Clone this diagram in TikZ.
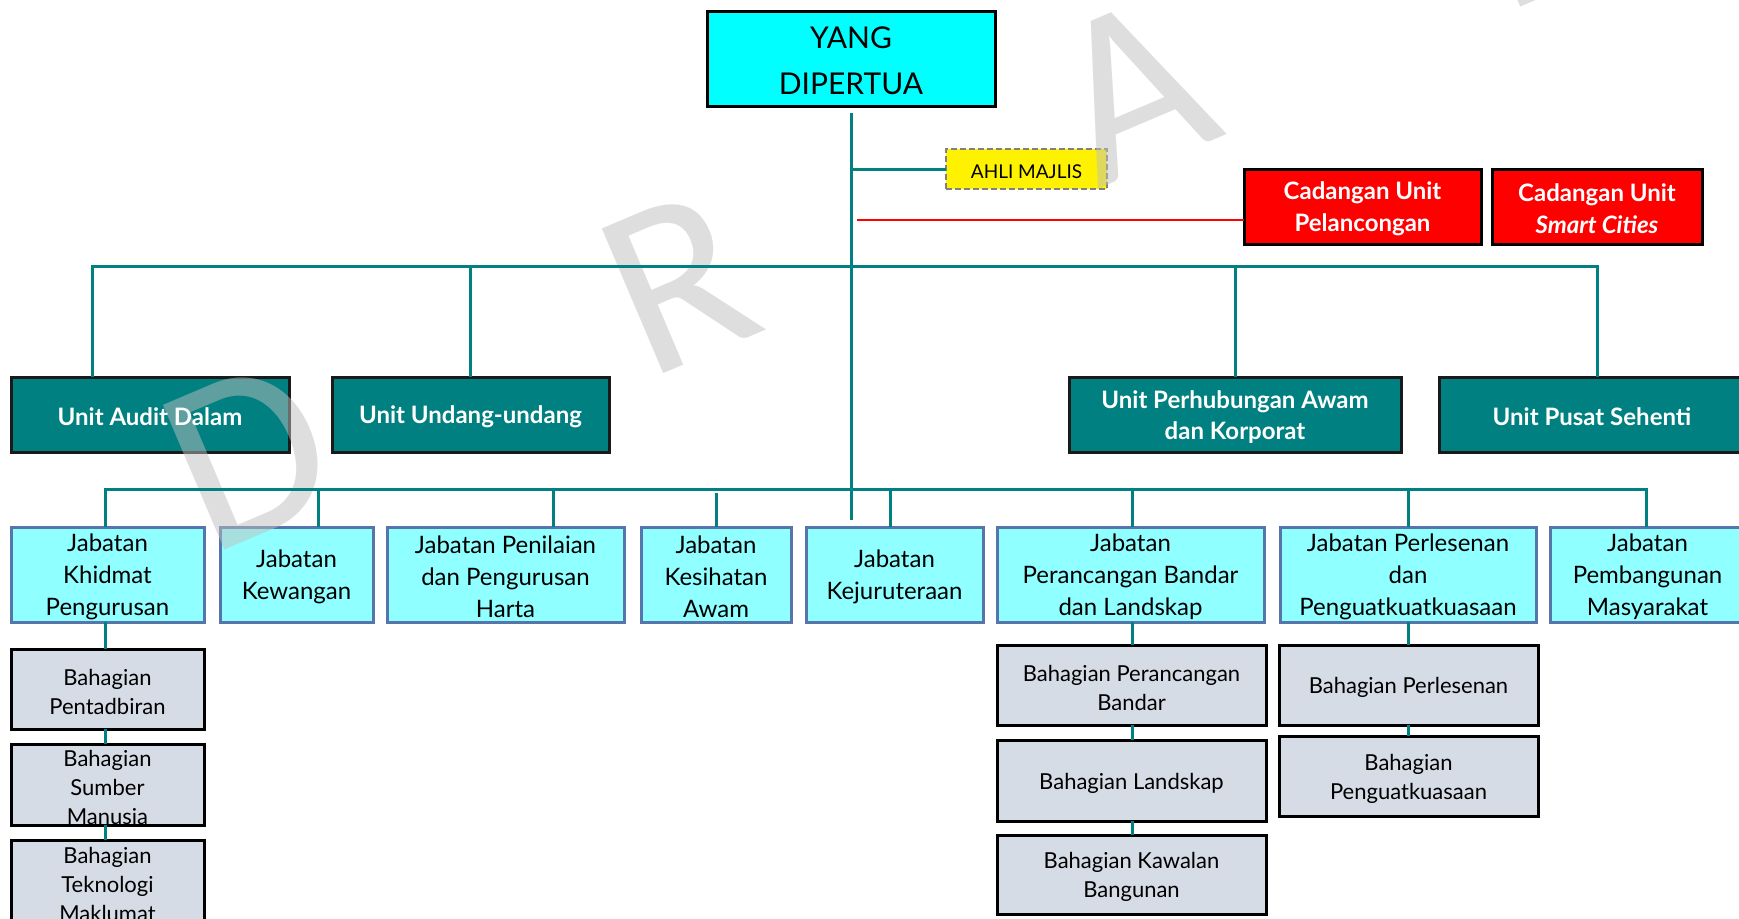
\documentclass[tikz,border=0pt]{standalone}
\usepackage{fontspec}
\setmainfont{Lato}
\newfontfamily\wmfont{Carlito}
\definecolor{teal1}{HTML}{008080}
\definecolor{ydpfill}{HTML}{00FFFF}
\definecolor{deptfill}{HTML}{8FFFFF}
\definecolor{deptdraw}{HTML}{5675AB}
\definecolor{grayfill}{HTML}{D6DCE5}
\definecolor{wmgray}{HTML}{BFBFBF}
\definecolor{borderdark}{HTML}{1A1A1A}
\pgfdeclarelayer{wm}
\pgfdeclarelayer{front}
\pgfsetlayers{main,wm,front}
\newcommand\orgbox[7]{%
  \node[#2, inner sep=0pt, outer sep=0pt, minimum width={(#5-#3)*1pt}, minimum height={(#6-#4)*1pt}] (#1) at ({(#3+#5)/2},{(#4+#6)/2}) {};
  \begin{pgfonlayer}{front}
  \node[#2 txt, align=center, inner sep=0pt, yshift=-2.5pt] (#1-t) at (#1.center) {#7};
  \end{pgfonlayer}
}
\tikzset{
  ydp/.style={draw=black, line width=3pt, fill=ydpfill},
  ydp txt/.style={font=\fontsize{30}{46}\selectfont},
  ahli/.style={draw=gray, dash pattern=on 6pt off 3pt, line width=2.5pt, fill=yellow},
  ahli txt/.style={font=\fontsize{19}{23}\selectfont},
  redbox/.style={draw=black, line width=3pt, fill=red},
  redbox txt/.style={text=white, font=\bfseries\fontsize{24}{32}\selectfont},
  unit/.style={draw=borderdark, line width=3pt, fill=teal1},
  unit txt/.style={text=white, font=\bfseries\fontsize{24}{31}\selectfont},
  dept/.style={draw=deptdraw, line width=3pt, fill=deptfill},
  dept txt/.style={font=\fontsize{24}{32}\selectfont},
  sub/.style={draw=black, line width=3pt, fill=grayfill},
  sub txt/.style={font=\fontsize{22}{29}\selectfont},
  conn/.style={draw=teal1, line width=3pt},
  wm/.style={rotate=23, text=wmgray, text opacity=0.5, font=\wmfont\fontsize{245}{245}\selectfont, inner sep=0pt},
}
\begin{document}
\begin{tikzpicture}[x=1pt, y=-1pt]
\useasboundingbox (0,0) rectangle (1739,918);
\fill[white] (0,0) rectangle (1739,918);
% top
\orgbox{ydp}{ydp}{707}{11}{995}{106}{YANG\\DIPERTUA}
\orgbox{ahli}{ahli}{946}{149}{1107}{189}{AHLI MAJLIS}
\orgbox{pel}{redbox}{1244}{169}{1481}{244}{Cadangan Unit\\Pelancongan}
\orgbox{smart}{redbox}{1492}{169}{1702}{244}{Cadangan Unit\\\textit{Smart Cities}}
% units
\orgbox{audit}{unit}{11}{377}{289}{452}{Unit Audit Dalam}
\orgbox{undang}{unit}{332}{377}{609}{452}{Unit Undang-undang}
\orgbox{perh}{unit}{1069}{377}{1401}{452}{Unit Perhubungan Awam\\dan Korporat}
\orgbox{pusat}{unit}{1439}{377}{1745}{452}{Unit Pusat Sehenti}
% departments
\orgbox{khidmat}{dept}{11}{527}{204}{622}{Jabatan\\Khidmat\\Pengurusan}
\orgbox{kew}{dept}{220}{527}{373}{622}{Jabatan\\Kewangan}
\orgbox{pen}{dept}{387}{527}{624}{622}{Jabatan Penilaian\\dan Pengurusan\\Harta}
\orgbox{kes}{dept}{641}{527}{791}{622}{Jabatan\\Kesihatan\\Awam}
\orgbox{kej}{dept}{806}{527}{983}{622}{Jabatan\\Kejuruteraan}
\orgbox{pr}{dept}{997}{527}{1264}{622}{Jabatan\\Perancangan Bandar\\dan Landskap}
\orgbox{perl}{dept}{1280}{527}{1536}{622}{Jabatan Perlesenan\\dan\\Penguatkuatkuasaan}
\orgbox{pem}{dept}{1550}{527}{1745}{622}{Jabatan\\Pembangunan\\Masyarakat}
% sub units
\orgbox{pent}{sub}{11}{649}{204}{729}{Bahagian\\Pentadbiran}
\orgbox{sumb}{sub}{11}{744}{204}{825}{Bahagian\\Sumber\\Manusia}
\orgbox{tek}{sub}{11}{840}{204}{924}{Bahagian\\Teknologi\\Maklumat}
\orgbox{pband}{sub}{997}{645}{1266}{725}{Bahagian Perancangan\\Bandar}
\orgbox{land}{sub}{997}{740}{1266}{821}{Bahagian Landskap}
\orgbox{kaw}{sub}{997}{835}{1266}{914}{Bahagian Kawalan\\Bangunan}
\orgbox{bperl}{sub}{1279}{645}{1538}{725}{Bahagian Perlesenan}
\orgbox{bpeng}{sub}{1279}{736}{1538}{816}{Bahagian\\Penguatkuasaan}
% watermark
\begin{pgfonlayer}{wm}
\node[wm] (wD) at (248,455) {D};
\node[wm] (wR) at (678,282) {R};
\node[wm] (wA) at (1132,89) {A};
\node[wm] (wF) at (1527,-81) {F};
\end{pgfonlayer}
% connectors
\begin{pgfonlayer}{front}
\coordinate (tEnd) at (851,520);
\draw[conn] ([yshift=-7pt]ydp.south) -- (tEnd);
\draw[conn] (ydp.south |- ahli.west) -- (ahli.west);
\coordinate (rS) at (857,220);
\draw[red, line width=1.5pt] (rS) -- (rS -| pel.west);
\coordinate (L1a) at (92,266);
\coordinate (L1b) at (1597,266);
\draw[conn] (L1a |- audit.north) -- (L1a) -- (L1b) -- (L1b |- pusat.north);
\draw[conn] (undang.north |- L1a) -- (undang.north);
\draw[conn] (perh.north |- L1a) -- (perh.north);
\coordinate (L2a) at (105,489);
\coordinate (L2b) at (1646,489);
\draw[conn] (L2a |- khidmat.north) -- (L2a) -- (L2b) -- (L2b |- pem.north);
\coordinate (dKew) at (318,489);
\coordinate (dPen) at (553,489);
\coordinate (dKes) at (716,493);
\coordinate (dKej) at (890,489);
\coordinate (dPr) at (1132,489);
\coordinate (dPerl) at (1408,489);
\draw[conn] (dKew) -- (dKew |- kew.north);
\draw[conn] (dPen) -- (dPen |- pen.north);
\draw[conn] (dKes) -- (dKes |- kes.north);
\draw[conn] (dKej) -- (dKej |- kej.north);
\draw[conn] (dPr) -- (dPr |- pr.north);
\draw[conn] (dPerl) -- (dPerl |- perl.north);
\draw[conn] (L2a |- khidmat.south) -- (L2a |- pent.north);
\draw[conn] (L2a |- pent.south) -- (L2a |- sumb.north);
\draw[conn] (L2a |- sumb.south) -- (L2a |- tek.north);
\draw[conn] (dPr |- pr.south) -- (dPr |- pband.north);
\draw[conn] (dPr |- pband.south) -- (dPr |- land.north);
\draw[conn] (dPr |- land.south) -- (dPr |- kaw.north);
\draw[conn] (dPerl |- perl.south) -- (dPerl |- bperl.north);
\draw[conn] (dPerl |- bperl.south) -- (dPerl |- bpeng.north);
\end{pgfonlayer}
\end{tikzpicture}
\end{document}
